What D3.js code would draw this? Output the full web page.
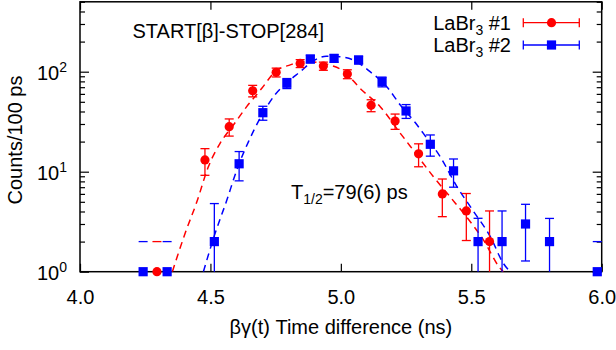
<!DOCTYPE html>
<html>
<head>
<meta charset="utf-8">
<script src="https://cdn.jsdelivr.net/npm/d3@7"></script>
<style>
  body { margin: 0; background: #fff; }
  svg { font-family: "Liberation Sans", Arial, sans-serif; }
  .axis path.domain { display: none; }
  .axis line { stroke: #000; stroke-width: 1.2; }
  .axis text { font-size: 20px; fill: #000; font-family: "Liberation Sans", Arial, sans-serif; }
</style>
</head>
<body>
<div id="chart"></div>
<script>
// ---- data ----
const redTime = [4.295, 4.479, 4.572, 4.662, 4.752, 4.844, 4.933, 5.025, 5.116, 5.208, 5.298, 5.389, 5.481, 5.570];
const redCounts = [1, 13.1, 28.2, 64.5, 98.6, 121, 114, 94.8, 46.1, 32.1, 15.1, 6.0, 4.05, 2];
const redErrors = [1, 3.9, 5.5, 8.5, 10, 11, 10.7, 9.7, 6.3, 5.6, 3.9, 2.45, 2.0, 2.05];

const blueTime = [4.242, 4.334, 4.515, 4.610, 4.701, 4.793, 4.883, 4.974, 5.068, 5.158, 5.250, 5.343, 5.432, 5.526, 5.618, 5.708, 5.800, 5.983];
const blueCounts = [1, 1, 2, 12, 38.9, 76.6, 134, 136, 131, 79.4, 40.5, 18.8, 10.2, 2, 2, 3, 2, 1];
const blueErrors = [1, 1, 2.8, 3.9, 6.2, 8.8, 11.6, 11.7, 11.4, 8.9, 6.4, 4.5, 3.2, 1.42, 2.05, 1.72, 1.41, 1];

// fitted curves (dashed)
const redFitTime = [4.354, 4.403, 4.448, 4.492, 4.537, 4.588, 4.639, 4.697, 4.748, 4.806, 4.857, 4.909, 4.965, 5.004, 5.081, 5.151, 5.227, 5.266, 5.355, 5.419, 5.483, 5.547, 5.611, 5.623];
const redFitCounts = [1, 2.42, 5.0, 11.2, 19.2, 29.3, 44.7, 68.2, 100, 117, 126, 124, 115, 104, 65.3, 44.7, 24.4, 18, 8.9, 5.6, 3.5, 2.07, 1.08, 1];

const blueFitTime = [4.473, 4.518, 4.563, 4.601, 4.646, 4.697, 4.748, 4.794, 4.844, 4.894, 4.944, 4.997, 5.047, 5.112, 5.176, 5.227, 5.285, 5.317, 5.381, 5.445, 5.509, 5.573, 5.624, 5.649];
const blueFitCounts = [1, 2.42, 5.2, 10.4, 20, 36.7, 59, 78, 100, 128, 143, 141, 131, 100, 70.8, 46.8, 31, 24, 14.1, 7.1, 4, 2.24, 1.2, 1];

const xTicks = [4.0, 4.5, 5.0, 5.5, 6.0];
const yMajor = [1, 10, 100];
const yExponents = ["0", "1", "2"];
const legendLabels = ["#1", "#2"];

(function () {
  /* ----------------------- dimensions ----------------------- */
  const W = 616, H = 350;
  const plotLeft = 80, plotRight = 601.7, plotTop = 1.8, plotBottom = 271.7;

  const svg = d3.select("#chart").append("svg")
    .attr("width", W).attr("height", H);

  const x = d3.scaleLinear().domain([4, 6]).range([plotLeft, plotRight]);
  const y = d3.scaleLog().domain([1, 500]).range([plotBottom, plotTop]);

  const RED = "#ff0000", BLUE = "#0000ff";

  svg.append("clipPath").attr("id", "plot-clip")
    .append("rect").attr("x", plotLeft).attr("y", plotTop)
    .attr("width", plotRight - plotLeft).attr("height", plotBottom - plotTop);

  /* ----------------------- axes ----------------------- */
  const yMinor = [];
  for (let k = 0; k < 3; k++) {
    for (let m = 2; m <= 9; m++) {
      const v = m * Math.pow(10, k);
      if (v <= 500) yMinor.push(v);
    }
  }

  svg.append("g").attr("class", "axis")
    .attr("transform", `translate(0,${plotBottom})`)
    .call(d3.axisBottom(x).tickValues(xTicks).tickSize(-8).tickPadding(18).tickFormat(d3.format(".1f")));

  svg.append("g").attr("class", "axis")
    .attr("transform", `translate(0,${plotTop})`)
    .call(d3.axisTop(x).tickValues(xTicks).tickSize(-8).tickFormat(""));

  [[plotLeft, d3.axisLeft], [plotRight, d3.axisRight]].forEach(([pos, ax]) => {
    svg.append("g").attr("class", "axis")
      .attr("transform", `translate(${pos},0)`)
      .call(ax(y).tickValues(yMajor).tickSize(-9).tickFormat(""));
    svg.append("g").attr("class", "axis")
      .attr("transform", `translate(${pos},0)`)
      .call(ax(y).tickValues(yMinor).tickSize(-5).tickFormat(""));
  });

  // y tick labels 10^n
  yMajor.forEach((v, i) => {
    const t = svg.append("text")
      .attr("x", 67).attr("y", y(v) + 8)
      .attr("text-anchor", "end")
      .style("font-size", "20px");
    t.append("tspan").text("10");
    t.append("tspan").attr("dy", -8).style("font-size", "14px").text(yExponents[i]);
  });

  // frame
  svg.append("rect")
    .attr("x", plotLeft).attr("y", plotTop)
    .attr("width", plotRight - plotLeft).attr("height", plotBottom - plotTop)
    .attr("fill", "none").attr("stroke", "#000").attr("stroke-width", 1.5);

  /* ----------------------- axis titles ----------------------- */
  svg.append("text")
    .attr("x", (plotLeft + plotRight) / 2).attr("y", 334)
    .attr("text-anchor", "middle").style("font-size", "20px")
    .text("βγ(t) Time difference (ns)");

  svg.append("text")
    .attr("transform", "translate(22,140) rotate(-90)")
    .attr("text-anchor", "middle").style("font-size", "20px")
    .text("Counts/100 ps");

  /* ----------------------- fit curves ----------------------- */
  const fitLine = d3.line()
    .x((d) => x(d[0]))
    .y((d) => y(d[1]))
    .curve(d3.curveMonotoneX);

  const plot = svg.append("g").attr("clip-path", "url(#plot-clip)");

  [[redFitTime, redFitCounts, RED], [blueFitTime, blueFitCounts, BLUE]].forEach(([ts, cs, col]) => {
    plot.append("path")
      .datum(ts.map((t, i) => [t, cs[i]]))
      .attr("d", fitLine)
      .attr("fill", "none")
      .attr("stroke", col)
      .attr("stroke-width", 1.5)
      .attr("stroke-dasharray", "7,5");
  });

  /* ----------------------- data with error bars ----------------------- */
  const cap = 4.5;

  function drawSeries(ts, cs, es, col, shape) {
    const g = svg.append("g");
    ts.forEach((t, i) => {
      const cx = x(t);
      const hi = cs[i] + es[i];
      const lo = cs[i] - es[i];
      const yHi = y(hi);
      // a lower bound of exactly zero has no log: only the upper cap shows
      if (lo !== 0) {
        const yLo = lo > 1 ? y(lo) : plotBottom;
        g.append("line").attr("x1", cx).attr("x2", cx).attr("y1", yHi).attr("y2", yLo)
          .attr("stroke", col).attr("stroke-width", 1.3);
        if (lo > 1) {
          g.append("line").attr("x1", cx - cap).attr("x2", cx + cap).attr("y1", yLo).attr("y2", yLo)
            .attr("stroke", col).attr("stroke-width", 1.3);
        }
      }
      g.append("line").attr("x1", cx - cap).attr("x2", cx + cap).attr("y1", yHi).attr("y2", yHi)
        .attr("stroke", col).attr("stroke-width", 1.3);
    });
    ts.forEach((t, i) => {
      const cx = x(t), cy = y(cs[i]);
      if (shape === "circle") {
        g.append("circle").attr("cx", cx).attr("cy", cy).attr("r", 4.6).attr("fill", col);
      } else {
        g.append("rect").attr("x", cx - 4.6).attr("y", cy - 4.6)
          .attr("width", 9.2).attr("height", 9.2).attr("fill", col);
      }
    });
  }

  drawSeries(redTime, redCounts, redErrors, RED, "circle");
  drawSeries(blueTime, blueCounts, blueErrors, BLUE, "square");

  /* ----------------------- annotations ----------------------- */
  svg.append("text")
    .attr("x", 132.5).attr("y", 37.5)
    .style("font-size", "20px")
    .text("START[β]-STOP[284]");

  const half = svg.append("text")
    .attr("x", 291).attr("y", 199)
    .style("font-size", "20px");
  half.append("tspan").text("T");
  half.append("tspan").attr("dy", 5).style("font-size", "14px").text("1/2");
  half.append("tspan").attr("dy", -5).text("=79(6) ps");

  /* ----------------------- legend ----------------------- */
  const legendRows = [
    { y: 22.7, col: RED, shape: "circle" },
    { y: 45, col: BLUE, shape: "square" },
  ];

  legendRows.forEach((row, i) => {
    const t = svg.append("text")
      .attr("x", 511).attr("y", row.y + 7)
      .attr("text-anchor", "end")
      .style("font-size", "20px");
    t.append("tspan").text("LaBr");
    t.append("tspan").attr("dy", 5).style("font-size", "14px").text("3");
    t.append("tspan").attr("dy", -5).text(" " + legendLabels[i]);

    const x0 = 523.3, x1 = 579.3, xm = 551.5;
    svg.append("line").attr("x1", x0).attr("x2", x1).attr("y1", row.y).attr("y2", row.y)
      .attr("stroke", row.col).attr("stroke-width", 1.3);
    [x0, x1].forEach((xx) => {
      svg.append("line").attr("x1", xx).attr("x2", xx).attr("y1", row.y - cap).attr("y2", row.y + cap)
        .attr("stroke", row.col).attr("stroke-width", 1.3);
    });
    if (row.shape === "circle") {
      svg.append("circle").attr("cx", xm).attr("cy", row.y).attr("r", 4.6).attr("fill", row.col);
    } else {
      svg.append("rect").attr("x", xm - 4.6).attr("y", row.y - 4.6)
        .attr("width", 9.2).attr("height", 9.2).attr("fill", row.col);
    }
  });
})();
</script>
</body>
</html>
